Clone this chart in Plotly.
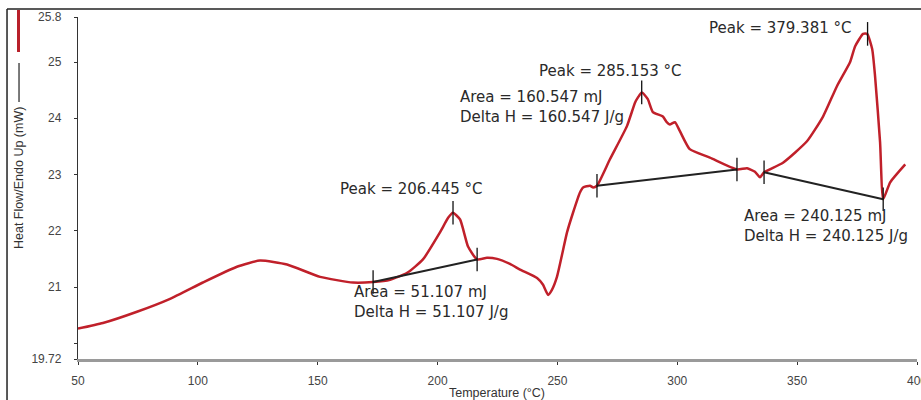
import plotly.graph_objects as go

# ---------------- data ----------------
temperature = [50.0, 60.4, 74.6, 88.4, 102.1, 116.3, 125.9, 137.2, 151.0, 164.7,
               173.1, 180.2, 187.3, 193.9, 201.0, 204.4, 206.4, 209.4, 212.7, 216.5,
               220.6, 224.8, 230.2, 234.4, 241.5, 244.0, 246.1, 247.7, 249.8, 254.0,
               256.5, 259.4, 260.7, 263.6, 264.9, 266.5, 271.9, 279.0, 282.4, 283.6,
               285.2, 287.7, 289.8, 294.0, 295.6, 296.9, 299.0, 301.1, 305.2, 313.6,
               324.9, 329.1, 332.4, 334.5, 336.2, 344.1, 354.1, 360.8, 366.6, 372.1,
               374.2, 377.5, 379.2, 381.3, 382.5, 384.6, 385.9, 388.8, 395.1]
heat_flow = [20.26, 20.36, 20.56, 20.79, 21.08, 21.36, 21.47, 21.40, 21.18, 21.08,
             21.09, 21.13, 21.25, 21.49, 21.97, 22.23, 22.32, 22.20, 21.72, 21.49,
             21.52, 21.50, 21.41, 21.31, 21.16, 21.04, 20.86, 20.95, 21.18, 21.97,
             22.32, 22.68, 22.77, 22.80, 22.77, 22.80, 23.27, 23.86, 24.28, 24.37,
             24.46, 24.34, 24.11, 24.03, 23.93, 23.89, 23.93, 23.77, 23.45, 23.30,
             23.09, 23.11, 23.05, 22.95, 23.04, 23.21, 23.59, 24.03, 24.57, 25.00,
             25.28, 25.50, 25.50, 25.23, 24.75, 23.57, 22.56, 22.86, 23.18]

baseline_start_x = [173.1, 266.5, 336.2]
baseline_start_y = [21.09, 22.80, 23.04]
baseline_end_x = [216.5, 324.9, 385.9]
baseline_end_y = [21.49, 23.09, 22.56]

peak_x = [206.445, 285.153, 379.381]
peak_y = [22.32, 24.46, 25.50]

peak_labels = ["Peak = 206.445 °C", "Peak = 285.153 °C", "Peak = 379.381 °C"]
area_labels = ["Area = 51.107 mJ<br>Delta H = 51.107 J/g",
               "Area = 160.547 mJ<br>Delta H = 160.547 J/g",
               "Area = 240.125 mJ<br>Delta H = 240.125 J/g"]
peak_label_pos = [(158.5, 22.75), (241.5, 24.84), (312.4, 25.60)]
area_label_pos = [(164.3, 20.73), (208.5, 24.20), (327.0, 22.08)]

x_ticks = [50, 100, 150, 200, 250, 300, 350, 400]
y_ticks = [19.72, 20, 21, 22, 23, 24, 25, 25.8]
y_ticktext = ["19.72", "", "21", "22", "23", "24", "25", "25.8"]

# ---------------- figure ----------------
fig = go.Figure()

fig.add_trace(go.Scatter(x=temperature, y=heat_flow, mode="lines",
                         line=dict(color="#c0202a", width=2.5, shape="spline", smoothing=0.5),
                         hoverinfo="skip"))

tick_half = 0.21
for x0, y0, x1, y1 in zip(baseline_start_x, baseline_start_y, baseline_end_x, baseline_end_y):
    fig.add_trace(go.Scatter(x=[x0, x1], y=[y0, y1], mode="lines",
                             line=dict(color="#222222", width=2), hoverinfo="skip"))
    for xx, yy in ((x0, y0), (x1, y1)):
        fig.add_trace(go.Scatter(x=[xx, xx], y=[yy - tick_half, yy + tick_half], mode="lines",
                                 line=dict(color="#111111", width=1.3), hoverinfo="skip"))

for xx, yy in zip(peak_x, peak_y):
    fig.add_trace(go.Scatter(x=[xx, xx], y=[yy - tick_half, yy + tick_half], mode="lines",
                             line=dict(color="#111111", width=1.3), hoverinfo="skip"))

ann_font = dict(family="DejaVu Sans", size=15, color="#2a2a2a")
annotations = []
for txt, (ax, ay) in zip(peak_labels, peak_label_pos):
    annotations.append(dict(x=ax, y=ay, xref="x", yref="y", text=txt, showarrow=False,
                            xanchor="left", yanchor="middle", font=ann_font))
for txt, (ax, ay) in zip(area_labels, area_label_pos):
    annotations.append(dict(x=ax, y=ay, xref="x", yref="y", text=txt, showarrow=False,
                            xanchor="left", yanchor="middle", align="left", font=ann_font))

# axis titles
annotations.append(dict(x=-0.0703, y=0.5292, xref="paper", yref="paper",
                        text="Heat Flow/Endo Up (mW)", textangle=-90, showarrow=False,
                        xanchor="center", yanchor="middle",
                        font=dict(family="Liberation Sans", size=12.5, color="#333333")))
annotations.append(dict(x=0.4994, y=-0.098, xref="paper", yref="paper",
                        text="Temperature (°C)", showarrow=False,
                        xanchor="center", yanchor="middle",
                        font=dict(family="Liberation Sans", size=12.5, color="#333333")))

shapes = [
    # outer frame (left and top)
    dict(type="line", xref="paper", yref="paper", x0=-0.0846, x1=-0.0846, y0=-0.3, y1=1.0234,
         line=dict(color="#222222", width=1.5)),
    dict(type="line", xref="paper", yref="paper", x0=-0.0846, x1=1.2, y0=1.0234, y1=1.0234,
         line=dict(color="#222222", width=1.5)),
    # legend-like markers next to y title
    dict(type="line", xref="paper", yref="paper", x0=-0.0709, x1=-0.0709, y0=0.8977, y1=1.0205,
         line=dict(color="#b8202a", width=3)),
    dict(type="line", xref="paper", yref="paper", x0=-0.0703, x1=-0.0703, y0=0.7515, y1=0.8655,
         line=dict(color="#222222", width=1.2)),
]

fig.update_layout(
    width=921, height=400,
    margin=dict(l=78, r=4, t=17, b=41),
    paper_bgcolor="white", plot_bgcolor="white",
    showlegend=False,
    annotations=annotations,
    shapes=shapes,
    xaxis=dict(range=[50, 400], tickmode="array", tickvals=x_ticks,
               ticks="outside", ticklen=3, tickcolor="#333333", tickwidth=1,
               showline=True, linecolor="#9a9a9a", linewidth=2.5,
               showgrid=False, zeroline=False, ticklabelstandoff=6,
               ticklabeloverflow="allow", automargin=False,
               tickfont=dict(family="Liberation Sans", size=12, color="#444444")),
    yaxis=dict(range=[19.72, 25.8], tickmode="array", tickvals=y_ticks, ticktext=y_ticktext,
               ticks="outside", ticklen=3, tickcolor="#333333", tickwidth=1,
               showline=True, linecolor="#333333", linewidth=1.3,
               showgrid=False, zeroline=False, ticklabelstandoff=10, automargin=False,
               tickfont=dict(family="Liberation Sans", size=12, color="#444444")),
)

fig.write_html("out.html")
